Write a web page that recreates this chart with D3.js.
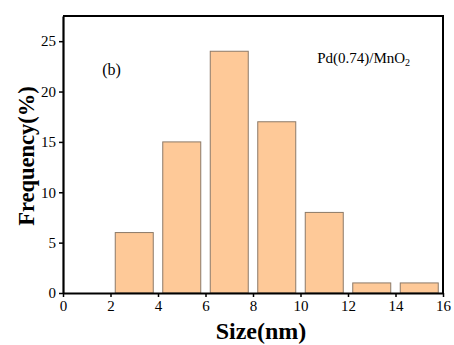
<!DOCTYPE html>
<html>
<head>
<meta charset="utf-8">
<script src="https://cdn.jsdelivr.net/npm/d3@7"></script>
<style>
  body { margin: 0; background: #fff; }
  text { font-family: "Liberation Serif", "Times New Roman", serif; }
</style>
</head>
<body>
<svg id="chart"></svg>
<script>
// histogram bins (center in nm) and frequency (%)
const binCenters = [3, 5, 7, 9, 11, 13, 15];
const frequencies = [6, 15, 24, 17, 8, 1, 1];
const xTicks = [0, 2, 4, 6, 8, 10, 12, 14, 16];
const yTicks = [0, 5, 10, 15, 20, 25];

const width = 454, height = 345;
const margin = { top: 16, right: 11, bottom: 52, left: 63 };
const innerW = width - margin.left - margin.right;
const innerH = height - margin.top - margin.bottom;

const svg = d3.select("#chart")
  .attr("width", width)
  .attr("height", height);

const g = svg.append("g")
  .attr("transform", `translate(${margin.left},${margin.top})`);

const x = d3.scaleLinear().domain([0, 16]).range([0, innerW]);
const y = d3.scaleLinear().domain([0, 27.5]).range([innerH, 0]);

const binWidth = 1.6;

// bars
g.selectAll(".bar")
  .data(binCenters.map((c, i) => ({ c, v: frequencies[i] })))
  .enter()
  .append("rect")
  .attr("class", "bar")
  .attr("x", d => x(d.c - binWidth / 2))
  .attr("y", d => y(d.v))
  .attr("width", x(binWidth) - x(0))
  .attr("height", d => innerH - y(d.v))
  .attr("fill", "#fec998")
  .attr("stroke", "#8c7a68")
  .attr("stroke-width", 1);

// frame (top + right)
g.append("path")
  .attr("d", `M0,0H${innerW}V${innerH}`)
  .attr("fill", "none")
  .attr("stroke", "#000")
  .attr("stroke-width", 2);

// x axis
const xAxis = g.append("g")
  .attr("transform", `translate(0,${innerH})`)
  .call(d3.axisBottom(x).tickValues(xTicks).tickSize(4).tickPadding(3).tickSizeOuter(0));
xAxis.select(".domain").attr("stroke-width", 2.2);
xAxis.selectAll(".tick line").attr("stroke-width", 1.5);
xAxis.selectAll(".tick text")
  .attr("font-size", 15)
  .attr("fill", "#000")
  .style("font-family", "'Liberation Serif', serif");

// y axis
const yAxis = g.append("g")
  .call(d3.axisLeft(y).tickValues(yTicks).tickSize(4).tickPadding(3).tickSizeOuter(0));
yAxis.select(".domain").attr("stroke-width", 2.2);
yAxis.selectAll(".tick line").attr("stroke-width", 1.5);
yAxis.selectAll(".tick text")
  .attr("font-size", 15)
  .attr("fill", "#000")
  .style("font-family", "'Liberation Serif', serif");

// axis titles
svg.append("text")
  .attr("x", 261)
  .attr("y", 339)
  .attr("text-anchor", "middle")
  .attr("font-size", 24)
  .attr("font-weight", "bold")
  .text("Size(nm)");

svg.append("text")
  .attr("transform", `translate(34,156) rotate(-90)`)
  .attr("text-anchor", "middle")
  .attr("font-size", 22.5)
  .attr("font-weight", "bold")
  .text("Frequency(%)");

// annotations
g.append("text")
  .attr("x", x(1.65))
  .attr("y", y(21.6))
  .attr("font-size", 16)
  .text("(b)");

const lbl = g.append("text")
  .attr("x", x(10.7))
  .attr("y", y(22.8))
  .attr("font-size", 15);
lbl.append("tspan").text("Pd(0.74)/MnO");
lbl.append("tspan").attr("font-size", 10).attr("dy", 3).text("2");
</script>
</body>
</html>
